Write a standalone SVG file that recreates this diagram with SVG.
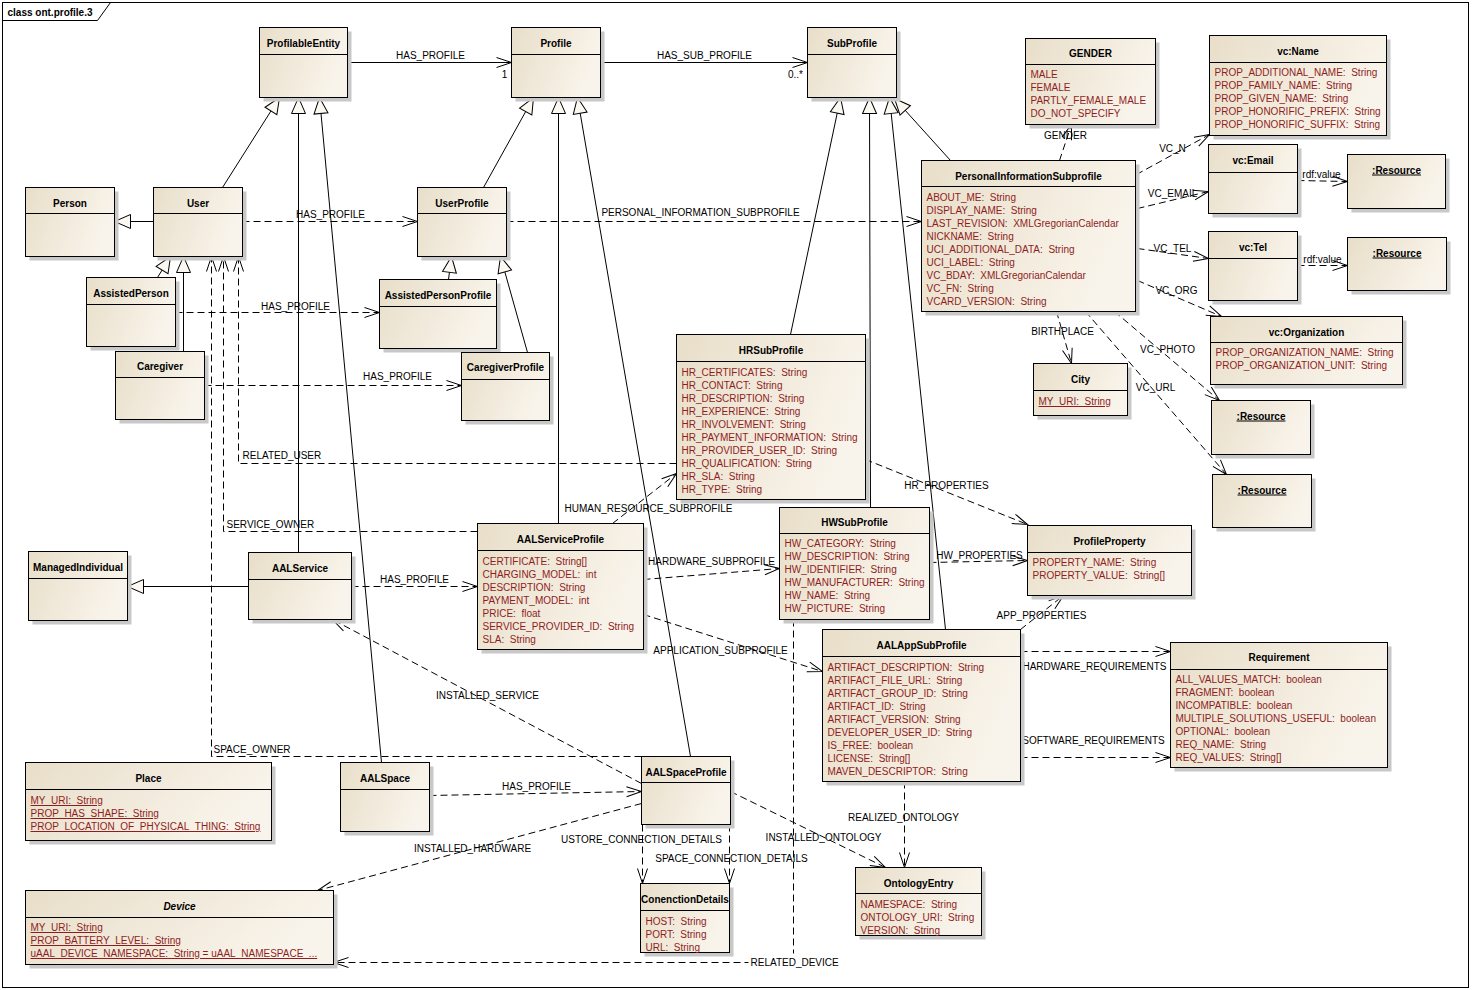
<svg xmlns="http://www.w3.org/2000/svg" width="1472" height="990" viewBox="0 0 1472 990">
<style>
.box{fill:url(#g);stroke:#000;stroke-width:1}
.sh{fill:#c8c8c8}
.hl{stroke:#000;stroke-width:1}
.t{font-family:'Liberation Sans',Arial,sans-serif;font-size:10px;font-weight:bold;text-anchor:middle;fill:#000}
.u{text-decoration:underline}
.a{font-family:'Liberation Sans',Arial,sans-serif;font-size:10px;fill:#8f1d1d;white-space:pre}
.l{font-family:'Liberation Sans',Arial,sans-serif;font-size:10px;fill:#000;white-space:pre}
.m{text-anchor:middle}
.s{stroke:#000;fill:none;stroke-width:1}
.d{stroke:#000;fill:none;stroke-width:1;stroke-dasharray:7 4}
.gen{marker-end:url(#gen)}
.arr{marker-end:url(#open)}
</style>
<defs>
<linearGradient id="g" x1="0" y1="0" x2="1" y2="0.3">
<stop offset="0" stop-color="#e8dec9"/>
<stop offset="1" stop-color="#f9f4eb"/>
</linearGradient>
<marker id="gen" markerWidth="18" markerHeight="16" refX="17" refY="8" orient="auto" markerUnits="userSpaceOnUse">
<path d="M1,1 L17,8 L1,15 Z" fill="#fbf8f1" stroke="#000"/>
</marker>
<marker id="open" markerWidth="18" markerHeight="12" refX="16" refY="6" orient="auto" markerUnits="userSpaceOnUse">
<path d="M1,1 L16,6 L1,11" fill="none" stroke="#000"/>
</marker>
</defs>
<rect x="0" y="0" width="1472" height="990" fill="#fff"/>
<g transform="translate(0.5,0.5)">
<g id="frame">
<rect x="2" y="2" width="1466" height="985" fill="none" stroke="#000"/>
<path d="M2,20 L97,20 L110,2" fill="none" stroke="#000"/>
<text class="l" x="7" y="15" font-weight="bold">class ont.profile.3</text>
</g>
<g id="connectors">
<!-- generalizations -->
<path class="s gen" d="M222,187 L279,97"/>
<path class="s gen" d="M298,552 L298,97"/>
<path class="s gen" d="M381,762 L319,97"/>
<path class="s gen" d="M153,221 L114,221"/>
<path class="s gen" d="M157,277 L170,256"/>
<path class="s gen" d="M183,351 L183,256"/>
<path class="s gen" d="M248,586 L127,586"/>
<path class="s gen" d="M483,187 L533,97"/>
<path class="s gen" d="M558,523 L558,97"/>
<path class="s gen" d="M690,756 L577,97"/>
<path class="s gen" d="M448,279 L451,256"/>
<path class="s gen" d="M527,352 L500,256"/>
<path class="s gen" d="M790,334 L840,97"/>
<path class="s gen" d="M870,507 L869,97"/>
<path class="s gen" d="M945,629 L889,97"/>
<path class="s gen" d="M950,160 L894,98"/>
<!-- associations -->
<path class="s arr" d="M347,62 L511,62"/>
<path class="s arr" d="M600,62 L807,62"/>
<!-- dependencies -->
<path class="d arr" d="M242,221 L417,221"/>
<path class="d arr" d="M506,221 L921,221"/>
<path class="d arr" d="M175,312 L379,312"/>
<path class="d arr" d="M204,385 L461,385"/>
<path class="d arr" d="M676,463 L238,463 L238,256"/>
<path class="d arr" d="M477,531 L223,531 L223,256"/>
<path class="d arr" d="M641,756 L211,756 L211,256"/>
<path class="d arr" d="M351,586 L477,586"/>
<path class="d arr" d="M612,523 L676,473"/>
<path class="d arr" d="M643,579 L779,568"/>
<path class="d arr" d="M643,614 L822,671"/>
<path class="d arr" d="M641,783 L332,619"/>
<path class="d arr" d="M429,795 L641,791"/>
<path class="d arr" d="M641,803 L317,890"/>
<path class="d arr" d="M642,824 L642,883"/>
<path class="d arr" d="M729,824 L729,883"/>
<path class="d arr" d="M730,791 L885,867"/>
<path class="d arr" d="M904,781 L904,867"/>
<path class="d arr" d="M793,619 L793,962 L333,962"/>
<path class="d arr" d="M865,459 L1027,524"/>
<path class="d arr" d="M929,562 L1027,560"/>
<path class="d arr" d="M1020,629 L1063,595"/>
<path class="d arr" d="M1020,651 L1170,651"/>
<path class="d arr" d="M1020,757 L1170,757"/>
<path class="d arr" d="M1059,160 L1071,124"/>
<path class="d arr" d="M1136,174 L1209,134"/>
<path class="d arr" d="M1137,208 L1208,191"/>
<path class="d arr" d="M1137,248 L1208,258"/>
<path class="d arr" d="M1137,280 L1221,316"/>
<path class="d arr" d="M1297,180 L1347,181"/>
<path class="d arr" d="M1297,265 L1347,265"/>
<path class="d arr" d="M1056,311 L1071,363"/>
<path class="d arr" d="M1114,311 L1219,400"/>
<path class="d arr" d="M1085,311 L1226,474"/>
<!-- labels -->
<text class="l m" x="430" y="58">HAS_PROFILE</text>
<text class="l m" x="504" y="77">1</text>
<text class="l m" x="704" y="58">HAS_SUB_PROFILE</text>
<text class="l m" x="795" y="77">0..*</text>
<text class="l m" x="330" y="217">HAS_PROFILE</text>
<text class="l m" x="700" y="215">PERSONAL_INFORMATION_SUBPROFILE</text>
<text class="l m" x="295" y="309">HAS_PROFILE</text>
<text class="l m" x="397" y="379">HAS_PROFILE</text>
<text class="l" x="242" y="458">RELATED_USER</text>
<text class="l" x="226" y="527">SERVICE_OWNER</text>
<text class="l m" x="414" y="582">HAS_PROFILE</text>
<text class="l" x="213" y="752">SPACE_OWNER</text>
<text class="l m" x="648" y="511">HUMAN_RESOURCE_SUBPROFILE</text>
<text class="l m" x="711" y="564">HARDWARE_SUBPROFILE</text>
<text class="l m" x="720" y="653">APPLICATION_SUBPROFILE</text>
<text class="l m" x="487" y="698">INSTALLED_SERVICE</text>
<text class="l m" x="536" y="789">HAS_PROFILE</text>
<text class="l m" x="472" y="851">INSTALLED_HARDWARE</text>
<text class="l m" x="641" y="842">USTORE_CONNECTION_DETAILS</text>
<text class="l m" x="731" y="861">SPACE_CONNECTION_DETAILS</text>
<text class="l m" x="823" y="840">INSTALLED_ONTOLOGY</text>
<text class="l m" x="903" y="820">REALIZED_ONTOLOGY</text>
<rect x="748" y="953" width="94" height="13" fill="#fff"/>
<text class="l" x="750" y="965">RELATED_DEVICE</text>
<text class="l m" x="946" y="488">HR_PROPERTIES</text>
<text class="l m" x="979" y="558">HW_PROPERTIES</text>
<text class="l m" x="1041" y="618">APP_PROPERTIES</text>
<text class="l m" x="1094" y="669">HARDWARE_REQUIREMENTS</text>
<text class="l m" x="1093" y="743">SOFTWARE_REQUIREMENTS</text>
<text class="l m" x="1065" y="138">GENDER</text>
<text class="l m" x="1172" y="151">VC_N</text>
<text class="l m" x="1172" y="196">VC_EMAIL</text>
<text class="l m" x="1172" y="251">VC_TEL</text>
<text class="l m" x="1176" y="293">VC_ORG</text>
<text class="l m" x="1321" y="177">rdf:value</text>
<text class="l m" x="1322" y="262">rdf:value</text>
<text class="l m" x="1062" y="334">BIRTHPLACE</text>
<text class="l m" x="1167" y="352">VC_PHOTO</text>
<text class="l m" x="1155" y="390">VC_URL</text>
</g>
<g id="ProfilableEntity"><rect class="sh" x="263" y="31" width="88" height="70"/><rect class="box" x="259" y="27" width="88" height="70"/><line class="hl" x1="259" y1="54" x2="347" y2="54"/><text class="t" x="303" y="46">ProfilableEntity</text></g>
<g id="Profile"><rect class="sh" x="515" y="31" width="89" height="70"/><rect class="box" x="511" y="27" width="89" height="70"/><line class="hl" x1="511" y1="54" x2="600" y2="54"/><text class="t" x="555.5" y="46">Profile</text></g>
<g id="SubProfile"><rect class="sh" x="811" y="31" width="89" height="70"/><rect class="box" x="807" y="27" width="89" height="70"/><line class="hl" x1="807" y1="54" x2="896" y2="54"/><text class="t" x="851.5" y="46">SubProfile</text></g>
<g id="Person"><rect class="sh" x="29" y="191" width="89" height="69"/><rect class="box" x="25" y="187" width="89" height="69"/><line class="hl" x1="25" y1="213" x2="114" y2="213"/><text class="t" x="69.5" y="206">Person</text></g>
<g id="User"><rect class="sh" x="157" y="191" width="89" height="69"/><rect class="box" x="153" y="187" width="89" height="69"/><line class="hl" x1="153" y1="213" x2="242" y2="213"/><text class="t" x="197.5" y="206">User</text></g>
<g id="UserProfile"><rect class="sh" x="421" y="191" width="89" height="69"/><rect class="box" x="417" y="187" width="89" height="69"/><line class="hl" x1="417" y1="213" x2="506" y2="213"/><text class="t" x="461.5" y="206">UserProfile</text></g>
<g id="AssistedPerson"><rect class="sh" x="90" y="281" width="89" height="69"/><rect class="box" x="86" y="277" width="89" height="69"/><line class="hl" x1="86" y1="304" x2="175" y2="304"/><text class="t" x="130.5" y="296">AssistedPerson</text></g>
<g id="AssistedPersonProfile"><rect class="sh" x="383" y="283" width="117" height="69"/><rect class="box" x="379" y="279" width="117" height="69"/><line class="hl" x1="379" y1="306" x2="496" y2="306"/><text class="t" x="437.5" y="298">AssistedPersonProfile</text></g>
<g id="Caregiver"><rect class="sh" x="119" y="355" width="89" height="68"/><rect class="box" x="115" y="351" width="89" height="68"/><line class="hl" x1="115" y1="377" x2="204" y2="377"/><text class="t" x="159.5" y="369">Caregiver</text></g>
<g id="CaregiverProfile"><rect class="sh" x="465" y="356" width="88" height="68"/><rect class="box" x="461" y="352" width="88" height="68"/><line class="hl" x1="461" y1="379" x2="549" y2="379"/><text class="t" x="505" y="370">CaregiverProfile</text></g>
<g id="HRSubProfile"><rect class="sh" x="680" y="338" width="189" height="165"/><rect class="box" x="676" y="334" width="189" height="165"/><line class="hl" x1="676" y1="361" x2="865" y2="361"/><text class="t" x="770.5" y="353">HRSubProfile</text>
<text class="a" x="681" y="375.5">HR_CERTIFICATES:  String</text>
<text class="a" x="681" y="388.5">HR_CONTACT:  String</text>
<text class="a" x="681" y="401.5">HR_DESCRIPTION:  String</text>
<text class="a" x="681" y="414.5">HR_EXPERIENCE:  String</text>
<text class="a" x="681" y="427.5">HR_INVOLVEMENT:  String</text>
<text class="a" x="681" y="440.5">HR_PAYMENT_INFORMATION:  String</text>
<text class="a" x="681" y="453.5">HR_PROVIDER_USER_ID:  String</text>
<text class="a" x="681" y="466.5">HR_QUALIFICATION:  String</text>
<text class="a" x="681" y="479.5">HR_SLA:  String</text>
<text class="a" x="681" y="492.5">HR_TYPE:  String</text></g>
<g id="HWSubProfile"><rect class="sh" x="783" y="511" width="150" height="112"/><rect class="box" x="779" y="507" width="150" height="112"/><line class="hl" x1="779" y1="533" x2="929" y2="533"/><text class="t" x="854" y="525">HWSubProfile</text>
<text class="a" x="784" y="546.5">HW_CATEGORY:  String</text>
<text class="a" x="784" y="559.5">HW_DESCRIPTION:  String</text>
<text class="a" x="784" y="572.5">HW_IDENTIFIER:  String</text>
<text class="a" x="784" y="585.5">HW_MANUFACTURER:  String</text>
<text class="a" x="784" y="598.5">HW_NAME:  String</text>
<text class="a" x="784" y="611.5">HW_PICTURE:  String</text></g>
<g id="AALServiceProfile"><rect class="sh" x="481" y="527" width="166" height="126"/><rect class="box" x="477" y="523" width="166" height="126"/><line class="hl" x1="477" y1="550" x2="643" y2="550"/><text class="t" x="560" y="542">AALServiceProfile</text>
<text class="a" x="482" y="564.5">CERTIFICATE:  String[]</text>
<text class="a" x="482" y="577.5">CHARGING_MODEL:  int</text>
<text class="a" x="482" y="590.5">DESCRIPTION:  String</text>
<text class="a" x="482" y="603.5">PAYMENT_MODEL:  int</text>
<text class="a" x="482" y="616.5">PRICE:  float</text>
<text class="a" x="482" y="629.5">SERVICE_PROVIDER_ID:  String</text>
<text class="a" x="482" y="642.5">SLA:  String</text></g>
<g id="AALService"><rect class="sh" x="252" y="556" width="103" height="67"/><rect class="box" x="248" y="552" width="103" height="67"/><line class="hl" x1="248" y1="579" x2="351" y2="579"/><text class="t" x="299.5" y="571">AALService</text></g>
<g id="ManagedIndividual"><rect class="sh" x="32" y="555" width="99" height="69"/><rect class="box" x="28" y="551" width="99" height="69"/><line class="hl" x1="28" y1="578" x2="127" y2="578"/><text class="t" x="77.5" y="570">ManagedIndividual</text></g>
<g id="PersonalInformationSubprofile"><rect class="sh" x="925" y="164" width="214" height="151"/><rect class="box" x="921" y="160" width="214" height="151"/><line class="hl" x1="921" y1="186" x2="1135" y2="186"/><text class="t" x="1028" y="179">PersonalInformationSubprofile</text>
<text class="a" x="926" y="200.5">ABOUT_ME:  String</text>
<text class="a" x="926" y="213.5">DISPLAY_NAME:  String</text>
<text class="a" x="926" y="226.5">LAST_REVISION:  XMLGregorianCalendar</text>
<text class="a" x="926" y="239.5">NICKNAME:  String</text>
<text class="a" x="926" y="252.5">UCI_ADDITIONAL_DATA:  String</text>
<text class="a" x="926" y="265.5">UCI_LABEL:  String</text>
<text class="a" x="926" y="278.5">VC_BDAY:  XMLGregorianCalendar</text>
<text class="a" x="926" y="291.5">VC_FN:  String</text>
<text class="a" x="926" y="304.5">VCARD_VERSION:  String</text></g>
<g id="GENDER"><rect class="sh" x="1029" y="42" width="130" height="86"/><rect class="box" x="1025" y="38" width="130" height="86"/><line class="hl" x1="1025" y1="64" x2="1155" y2="64"/><text class="t" x="1090" y="56">GENDER</text>
<text class="a" x="1030" y="77.5">MALE</text>
<text class="a" x="1030" y="90.5">FEMALE</text>
<text class="a" x="1030" y="103.5">PARTLY_FEMALE_MALE</text>
<text class="a" x="1030" y="116.5">DO_NOT_SPECIFY</text></g>
<g id="vcName"><rect class="sh" x="1213" y="39" width="177" height="100"/><rect class="box" x="1209" y="35" width="177" height="100"/><line class="hl" x1="1209" y1="62" x2="1386" y2="62"/><text class="t" x="1297.5" y="54">vc:Name</text>
<text class="a" x="1214" y="75.5">PROP_ADDITIONAL_NAME:  String</text>
<text class="a" x="1214" y="88.5">PROP_FAMILY_NAME:  String</text>
<text class="a" x="1214" y="101.5">PROP_GIVEN_NAME:  String</text>
<text class="a" x="1214" y="114.5">PROP_HONORIFIC_PREFIX:  String</text>
<text class="a" x="1214" y="127.5">PROP_HONORIFIC_SUFFIX:  String</text></g>
<g id="vcEmail"><rect class="sh" x="1212" y="148" width="89" height="69"/><rect class="box" x="1208" y="144" width="89" height="69"/><line class="hl" x1="1208" y1="172" x2="1297" y2="172"/><text class="t" x="1252.5" y="163">vc:Email</text></g>
<g id="Resource1"><rect class="sh" x="1351" y="158" width="98" height="54"/><rect class="box" x="1347" y="154" width="98" height="54"/><text class="t u" x="1396" y="173">:Resource</text></g>
<g id="vcTel"><rect class="sh" x="1212" y="235" width="89" height="69"/><rect class="box" x="1208" y="231" width="89" height="69"/><line class="hl" x1="1208" y1="258" x2="1297" y2="258"/><text class="t" x="1252.5" y="250">vc:Tel</text></g>
<g id="Resource2"><rect class="sh" x="1351" y="241" width="99" height="53"/><rect class="box" x="1347" y="237" width="99" height="53"/><text class="t u" x="1396.5" y="256">:Resource</text></g>
<g id="vcOrganization"><rect class="sh" x="1214" y="320" width="192" height="68"/><rect class="box" x="1210" y="316" width="192" height="68"/><line class="hl" x1="1210" y1="342" x2="1402" y2="342"/><text class="t" x="1306" y="335">vc:Organization</text>
<text class="a" x="1215" y="355.5">PROP_ORGANIZATION_NAME:  String</text>
<text class="a" x="1215" y="368.5">PROP_ORGANIZATION_UNIT:  String</text></g>
<g id="City"><rect class="sh" x="1037" y="367" width="94" height="52"/><rect class="box" x="1033" y="363" width="94" height="52"/><line class="hl" x1="1033" y1="390" x2="1127" y2="390"/><text class="t" x="1080" y="382">City</text>
<text class="a u" x="1038" y="404.5">MY_URI:  String</text></g>
<g id="Resource3"><rect class="sh" x="1215" y="404" width="99" height="54"/><rect class="box" x="1211" y="400" width="99" height="54"/><text class="t u" x="1260.5" y="419">:Resource</text></g>
<g id="Resource4"><rect class="sh" x="1216" y="478" width="99" height="53"/><rect class="box" x="1212" y="474" width="99" height="53"/><text class="t u" x="1261.5" y="493">:Resource</text></g>
<g id="ProfileProperty"><rect class="sh" x="1031" y="529" width="164" height="70"/><rect class="box" x="1027" y="525" width="164" height="70"/><line class="hl" x1="1027" y1="552" x2="1191" y2="552"/><text class="t" x="1109" y="544">ProfileProperty</text>
<text class="a" x="1032" y="565.5">PROPERTY_NAME:  String</text>
<text class="a" x="1032" y="578.5">PROPERTY_VALUE:  String[]</text></g>
<g id="AALAppSubProfile"><rect class="sh" x="826" y="633" width="198" height="152"/><rect class="box" x="822" y="629" width="198" height="152"/><line class="hl" x1="822" y1="656" x2="1020" y2="656"/><text class="t" x="921" y="648">AALAppSubProfile</text>
<text class="a" x="827" y="670.5">ARTIFACT_DESCRIPTION:  String</text>
<text class="a" x="827" y="683.5">ARTIFACT_FILE_URL:  String</text>
<text class="a" x="827" y="696.5">ARTIFACT_GROUP_ID:  String</text>
<text class="a" x="827" y="709.5">ARTIFACT_ID:  String</text>
<text class="a" x="827" y="722.5">ARTIFACT_VERSION:  String</text>
<text class="a" x="827" y="735.5">DEVELOPER_USER_ID:  String</text>
<text class="a" x="827" y="748.5">IS_FREE:  boolean</text>
<text class="a" x="827" y="761.5">LICENSE:  String[]</text>
<text class="a" x="827" y="774.5">MAVEN_DESCRIPTOR:  String</text></g>
<g id="Requirement"><rect class="sh" x="1174" y="646" width="217" height="125"/><rect class="box" x="1170" y="642" width="217" height="125"/><line class="hl" x1="1170" y1="669" x2="1387" y2="669"/><text class="t" x="1278.5" y="660">Requirement</text>
<text class="a" x="1175" y="682.5">ALL_VALUES_MATCH:  boolean</text>
<text class="a" x="1175" y="695.5">FRAGMENT:  boolean</text>
<text class="a" x="1175" y="708.5">INCOMPATIBLE:  boolean</text>
<text class="a" x="1175" y="721.5">MULTIPLE_SOLUTIONS_USEFUL:  boolean</text>
<text class="a" x="1175" y="734.5">OPTIONAL:  boolean</text>
<text class="a" x="1175" y="747.5">REQ_NAME:  String</text>
<text class="a" x="1175" y="760.5">REQ_VALUES:  String[]</text></g>
<g id="OntologyEntry"><rect class="sh" x="859" y="871" width="126" height="68"/><rect class="box" x="855" y="867" width="126" height="68"/><line class="hl" x1="855" y1="893" x2="981" y2="893"/><text class="t" x="918" y="886">OntologyEntry</text>
<text class="a" x="860" y="907.5">NAMESPACE:  String</text>
<text class="a" x="860" y="920.5">ONTOLOGY_URI:  String</text>
<text class="a" x="860" y="933.5">VERSION:  String</text></g>
<g id="ConenctionDetails"><rect class="sh" x="644" y="887" width="89" height="69"/><rect class="box" x="640" y="883" width="89" height="69"/><line class="hl" x1="640" y1="910" x2="729" y2="910"/><text class="t" x="684.5" y="902">ConenctionDetails</text>
<text class="a" x="645" y="924.5">HOST:  String</text>
<text class="a" x="645" y="937.5">PORT:  String</text>
<text class="a" x="645" y="950.5">URL:  String</text></g>
<g id="AALSpaceProfile"><rect class="sh" x="645" y="760" width="89" height="68"/><rect class="box" x="641" y="756" width="89" height="68"/><line class="hl" x1="641" y1="782" x2="730" y2="782"/><text class="t" x="685.5" y="775">AALSpaceProfile</text></g>
<g id="AALSpace"><rect class="sh" x="344" y="766" width="89" height="69"/><rect class="box" x="340" y="762" width="89" height="69"/><line class="hl" x1="340" y1="789" x2="429" y2="789"/><text class="t" x="384.5" y="781">AALSpace</text></g>
<g id="Place"><rect class="sh" x="29" y="766" width="246" height="78"/><rect class="box" x="25" y="762" width="246" height="78"/><line class="hl" x1="25" y1="789" x2="271" y2="789"/><text class="t" x="148" y="781">Place</text>
<text class="a u" x="30" y="803.5">MY_URI:  String</text>
<text class="a u" x="30" y="816.5">PROP_HAS_SHAPE:  String</text>
<text class="a u" x="30" y="829.5">PROP_LOCATION_OF_PHYSICAL_THING:  String</text></g>
<g id="Device"><rect class="sh" x="29" y="894" width="308" height="74"/><rect class="box" x="25" y="890" width="308" height="74"/><line class="hl" x1="25" y1="917" x2="333" y2="917"/><text class="t" x="179" y="909" font-style="italic">Device</text>
<text class="a u" x="30" y="930.5">MY_URI:  String</text>
<text class="a u" x="30" y="943.5">PROP_BATTERY_LEVEL:  String</text>
<text class="a u" x="30" y="956.5">uAAL_DEVICE_NAMESPACE:  String = uAAL_NAMESPACE_...</text></g>
</g>
</svg>
